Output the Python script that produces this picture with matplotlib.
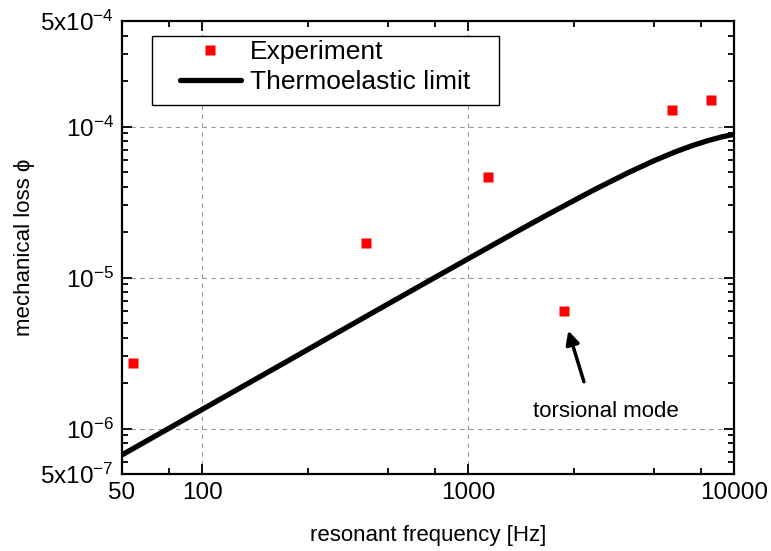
import matplotlib
matplotlib.use("Agg")
from matplotlib import pyplot as plt
from matplotlib.patches import Rectangle
from matplotlib.ticker import FixedLocator, LogLocator, NullFormatter

# measured points
exp_freq = [55, 413, 1189, 2294, 5845, 8180]
exp_loss = [2.72e-6, 1.69e-5, 4.63e-5, 6.0e-6, 1.28e-4, 1.51e-4]

# thermoelastic limit
te_freq = [50, 70, 100, 150, 200, 300, 500, 700, 1000, 1500, 2000, 3000,
           4000, 5000, 6000, 7000, 8000, 9000, 10000]
te_loss = [6.69e-7, 9.36e-7, 1.337e-6, 2.005e-6, 2.67e-6, 4.01e-6, 6.68e-6,
           9.34e-6, 1.330e-5, 1.983e-5, 2.621e-5, 3.836e-5, 4.948e-5,
           5.935e-5, 6.786e-5, 7.50e-5, 8.08e-5, 8.54e-5, 8.88e-5]

x_ticks = [50, 100, 1000, 10000]
x_labels = ["50", "100", "1000", "10000"]
x_minor = [75, 250, 500, 750, 2500, 5000, 7500]
y_ticks = [5e-7, 1e-6, 1e-5, 1e-4, 5e-4]
y_labels = [r"$\mathregular{5x10^{-7}}$", r"$\mathregular{10^{-6}}$",
            r"$\mathregular{10^{-5}}$", r"$\mathregular{10^{-4}}$",
            r"$\mathregular{5x10^{-4}}$"]

plt.rcParams["font.family"] = ["Liberation Sans", "DejaVu Sans"]
plt.rcParams["mathtext.fontset"] = "custom"
plt.rcParams["mathtext.rm"] = "Liberation Sans"

fig = plt.figure(figsize=(7.71, 5.51), dpi=100)
ax = fig.add_axes([122/771, 1 - 474/551, 612/771, 453/551])

ax.set_xscale("log")
ax.set_yscale("log")
ax.set_xlim(50, 10000)
ax.set_ylim(5e-7, 5e-4)

line, = ax.plot(te_freq, te_loss, color="black", lw=3.8,
                solid_capstyle="round", label="Thermoelastic limit", zorder=3)
pts, = ax.plot(exp_freq, exp_loss, "s", color="#ff0000", ms=6.5, mec="none",
               label="Experiment", zorder=4)

# grid only at inner major ticks
for gx in [100, 1000]:
    ax.axvline(gx, color="#999999", lw=0.8, ls=(0, (4, 4)), zorder=1)
for gy in [1e-6, 1e-5, 1e-4]:
    ax.axhline(gy, color="#999999", lw=0.8, ls=(0, (4, 4)), zorder=1)

ax.xaxis.set_major_locator(FixedLocator(x_ticks))
ax.set_xticklabels(x_labels)
ax.xaxis.set_minor_locator(FixedLocator(x_minor))
ax.xaxis.set_minor_formatter(NullFormatter())
ax.yaxis.set_major_locator(FixedLocator(y_ticks))
ax.set_yticklabels(y_labels)
ax.yaxis.set_minor_locator(LogLocator(base=10, subs=range(2, 10), numticks=20))
ax.yaxis.set_minor_formatter(NullFormatter())

ax.tick_params(which="both", direction="in", top=True, right=True, width=1.3,
               labelsize=17.5)
ax.tick_params(which="major", length=7.5, pad=6)
ax.tick_params(which="minor", length=4.5)
for s in ax.spines.values():
    s.set_linewidth(1.6)

ax.set_xlabel("resonant frequency [Hz]", fontsize=16)
ax.xaxis.set_label_coords(0.5, -0.112)
ax.set_ylabel("mechanical loss \u03d5", fontsize=16)
ax.yaxis.set_label_coords(-0.142, 0.5)

# legend box
ax.add_patch(Rectangle((30/612, 1 - 84/453), 347/612, 69/453,
                       transform=ax.transAxes, facecolor="white",
                       edgecolor="black", lw=1.0, zorder=5))
leg = ax.legend([pts, line], ["Experiment", "Thermoelastic limit"],
                loc="upper left", bbox_to_anchor=(58/612, 1 - 19/453),
                borderaxespad=0, borderpad=0, frameon=False, fontsize=19,
                handlelength=2.3, handletextpad=0.35, labelspacing=0.22,
                numpoints=1)
leg.set_zorder(6)

ax.annotate("", xy=(2382, 4.45e-6), xytext=(2728, 2.04e-6),
            arrowprops=dict(arrowstyle="-|>", color="black", lw=2.5,
                            mutation_scale=20, shrinkA=0, shrinkB=0))
ax.text(3301, 1.29e-6, "torsional mode", fontsize=16, ha="center",
        va="center")

fig.savefig("out.png", dpi=100)
